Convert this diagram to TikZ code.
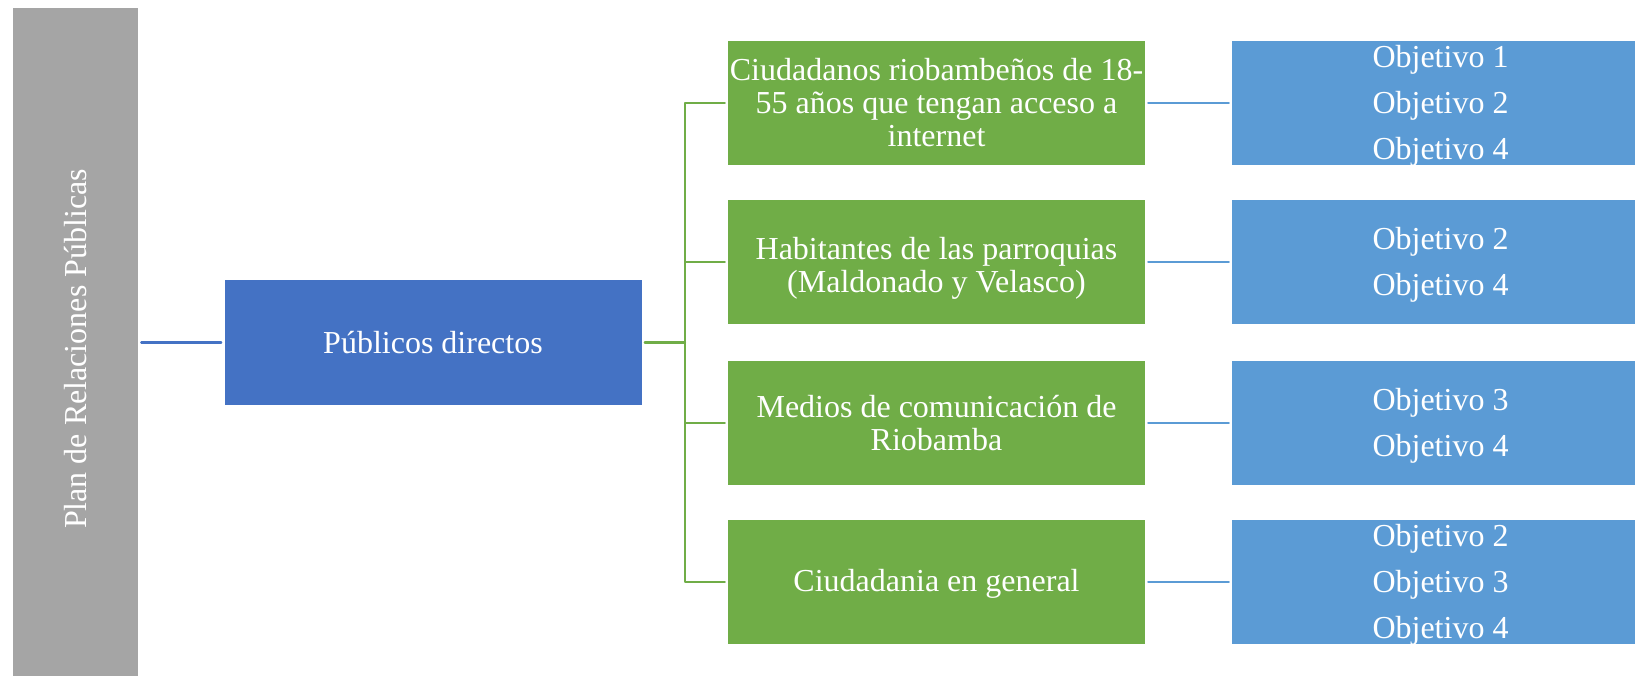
\documentclass[tikz,border=0pt]{standalone}
\usepackage{fontspec}
\setmainfont{Liberation Serif}
\definecolor{grisP}{HTML}{A5A5A5}
\definecolor{azulP}{HTML}{4472C4}
\definecolor{verdeP}{HTML}{70AD47}
\definecolor{azulO}{HTML}{5B9BD5}
\begin{document}
\begin{tikzpicture}[x=0.75pt, y=-0.75pt, line cap=round, line join=round]
	\tikzset{caja/.style={fill=#1, text=white, inner sep=0pt, align=center, minimum width=312.75pt, minimum height=93pt, font=\fontsize{24}{24.75}\selectfont},
		texto/.style={text=white, inner sep=0pt, align=center, yshift=-2.3pt, font=\fontsize{24}{34.5}\selectfont},
		objetivo/.style={caja=azulO, label={[texto]center:{#1}}},
		enlace/.style={line width=1.7pt, shorten >=2.25pt}}
	\useasboundingbox (0,0) rectangle (1635,675);
	\node[caja=grisP, rotate=90, minimum width=511.5pt, minimum height=93.75pt] (plan) at (75.5,349) {Plan de Relaciones Públicas};
	\node[caja=azulP, minimum height=93.75pt] (directos) at (433,342.5) {Públicos directos};
	\node[caja=verdeP] (p1) at (936.5,102.7) {Ciudadanos riobambeños de 18-\\55 años que tengan acceso a\\internet};
	\node[caja=verdeP] (p2) at (936.5,262) {\rule{0pt}{26pt}Habitantes de las parroquias\\(Maldonado y Velasco)};
	\node[caja=verdeP] (p3) at (936.5,423) {Medios de comunicación de\\Riobamba};
	\node[caja=verdeP] (p4) at (936.5,582) {\rule{0pt}{20pt}Ciudadania en general};
	\node[objetivo={Objetivo 1\\Objetivo 2\\Objetivo 4}] (o1) at (1440.5,102.7) {};
	\node[objetivo={Objetivo 2\\Objetivo 4}] (o2) at (1440.5,262) {};
	\node[objetivo={Objetivo 3\\Objetivo 4}] (o3) at (1440.5,423) {};
	\node[objetivo={Objetivo 2\\Objetivo 3\\Objetivo 4}] (o4) at (1440.5,582) {};
	\coordinate (tronco) at (685,342.5);
	\draw[enlace, azulP, shorten <=2.25pt] (plan.south |- directos) -- (directos.west);
	\draw[enlace, verdeP, shorten <=2.25pt, shorten >=0pt] (directos.east) -- (tronco);
	\foreach \i in {1,...,4} {
		\draw[enlace, verdeP] (tronco) |- (p\i.west);
		\draw[enlace, azulO, shorten <=2.25pt] (p\i.east) -- (o\i.west);
	}
\end{tikzpicture}
\end{document}
